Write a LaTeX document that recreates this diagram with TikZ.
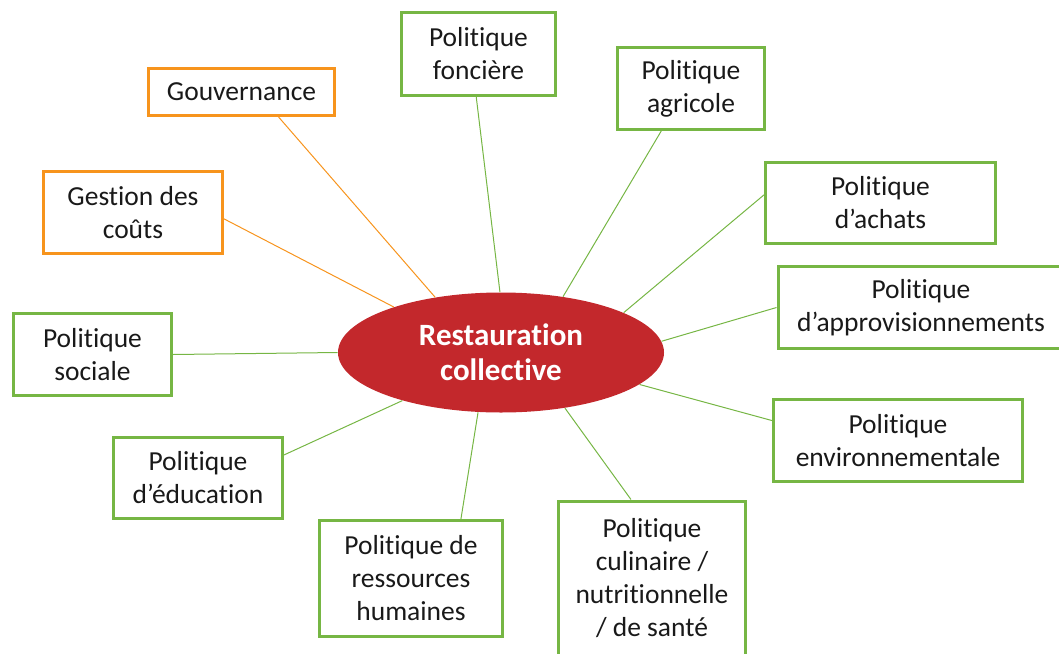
\documentclass[tikz,border=0pt]{standalone}
\usepackage{fontspec}
\setmainfont{Carlito}[Ligatures=NoCommon]
\definecolor{vertC}{RGB}{118,182,68}
\definecolor{orangeC}{RGB}{247,148,29}
\definecolor{rougeC}{RGB}{195,40,44}
\usetikzlibrary{shapes.geometric}
\tikzset{every picture/.style={line width=0.75pt}}
\tikzset{
  pol/.style={draw=vertC, line width=3pt, align=center, inner sep=0pt,
    font=\fontsize{27.5}{33}\selectfont, text=black!90},
  gest/.style={pol, draw=orangeC},
  lienV/.style={draw=vertC, line width=1pt},
  lienO/.style={draw=orangeC, line width=1pt}
}

\begin{document}
\begin{tikzpicture}[x=1pt,y=1pt,yscale=-1,xscale=1]
\clip (0,0) rectangle (1059,653);
\useasboundingbox (0,0) rectangle (1059,653);

%Shape: Ellipse [id:centre]
\node[ellipse, fill=rougeC, minimum width=326, minimum height=120, inner sep=0pt,
  align=center, text=white, font=\bfseries\fontsize{31}{35}\selectfont] (centre) at (501,352.5) {Restauration\\collective};

%Orange boxes
\node[gest, minimum width=186, minimum height=47] (gouv) at (241.5,92) {Gouvernance};
\node[gest, minimum width=179, minimum height=82] (couts) at (133,212.5) {Gestion des\\coûts};

%Green boxes
\node[pol, minimum width=154, minimum height=83] (fonciere) at (478.5,54) {Politique\\foncière};
\node[pol, minimum width=147, minimum height=82] (agricole) at (691,88.5) {Politique\\agricole};
\node[pol, minimum width=230, minimum height=81] (achats) at (880.5,203) {Politique\\d’achats};
\node[pol, minimum width=286, minimum height=82] (appro) at (921,307.5) {Politique\\d’approvisionnements};
\node[pol, minimum width=249, minimum height=82] (environ) at (898,440.5) {Politique\\environnementale};
\node[pol, minimum width=187, minimum height=154] (culinaire) at (652,578) {Politique\\culinaire /\\nutritionnelle\\/ de santé};
\node[pol, minimum width=183, minimum height=116] (rh) at (411,578.5) {Politique de\\ressources\\humaines};
\node[pol, minimum width=169, minimum height=81] (education) at (198,478) {Politique\\d’éducation};
\node[pol, minimum width=158, minimum height=82] (sociale) at (92.5,354.5) {Politique\\sociale};

%Straight Lines
\draw[lienO] (gouv.-34) -- (centre.140);
\draw[lienO] (couts.-4) -- (centre.157);
\draw[lienV] (fonciere.267) -- (centre.91);
\draw[lienV] (agricole.235) -- (centre.42);
\draw[lienV] (achats.176) -- (centre.18);
\draw[lienV] (appro.180) -- (centre.4);
\draw[lienV] (environ.171) -- (centre.-13);
\draw[lienV] (culinaire.105) -- (centre.-41);
\draw[lienV] (rh.50) -- (centre.249);
\draw[lienV] (education.15) -- (centre.206);
\draw[lienV] (sociale.0) -- (centre.180);

\end{tikzpicture}
\end{document}
